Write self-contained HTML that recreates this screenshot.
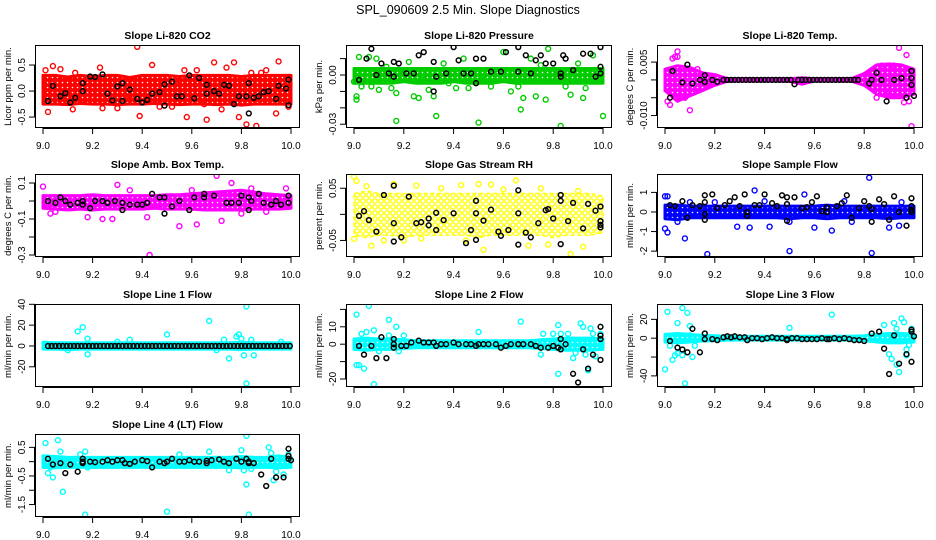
<!DOCTYPE html>
<html><head><meta charset="utf-8">
<style>
html,body{margin:0;padding:0;background:#fff;}
svg{display:block;font-family:"Liberation Sans",Arial,sans-serif;}
</style></head>
<body>
<svg id="chart" width="936" height="540" viewBox="0 0 936 540" xmlns="http://www.w3.org/2000/svg">
<rect width="936" height="540" fill="#fff"/>
<text x="468" y="14" text-anchor="middle" font-size="12.5">SPL_090609  2.5 Min. Slope Diagnostics</text>
</svg>
<script>
// ---------- shared data ----------
const xTicks = [9.0, 9.2, 9.4, 9.6, 9.8, 10.0];
const xTickLabels = ["9.0", "9.2", "9.4", "9.6", "9.8", "10.0"];
const bandX = [9.0,9.05,9.1,9.15,9.2,9.25,9.3,9.35,9.4,9.45,9.5,9.55,9.6,9.65,9.7,9.75,9.8,9.85,9.9,9.95,10.0];
const flowLineBlackX = [9.02,9.035,9.05,9.065,9.08,9.095,9.11,9.125,9.14,9.155,9.17,9.185,9.2,9.215,9.23,9.245,9.26,9.275,9.29,9.305,9.32,9.335,9.35,9.365,9.38,9.395,9.41,9.425,9.44,9.455,9.47,9.485,9.5,9.515,9.53,9.545,9.56,9.575,9.59,9.605,9.62,9.635,9.65,9.665,9.68,9.695,9.71,9.725,9.74,9.755,9.77,9.785,9.8,9.815,9.83,9.845,9.86,9.875,9.89,9.905,9.92,9.935,9.95,9.965,9.98,9.995];

// ---------- P1 CO2 ----------
const co2BandHi = [0.3,0.3,0.27,0.3,0.28,0.3,0.3,0.26,0.3,0.3,0.3,0.28,0.3,0.3,0.3,0.3,0.28,0.3,0.3,0.3,0.3];
const co2BandLo = [-0.25,-0.25,-0.26,-0.24,-0.25,-0.25,-0.26,-0.25,-0.25,-0.24,-0.25,-0.26,-0.25,-0.25,-0.26,-0.25,-0.27,-0.25,-0.25,-0.25,-0.25];
const co2X = [9.01,9.04,9.02,9.07,9.13,9.23,9.24,9.38,9.39,9.44,9.47,9.57,9.58,9.62,9.66,9.69,9.72,9.77,9.79,9.82,9.86,9.84,9.95,9.94,9.99,9.12,9.3,9.52,9.74,9.9,9.06,9.2,9.35,9.55,9.65,9.88];
const co2Y = [0.4,0.48,-0.4,0.42,0.35,0.45,-0.33,0.85,-0.48,0.5,-0.3,0.4,-0.5,0.4,-0.55,0.55,-0.35,0.55,-0.5,-0.64,-0.67,0.35,0.57,-0.43,-0.3,-0.35,-0.33,-0.3,0.45,0.4,-0.2,0.25,-0.15,0.2,-0.25,0.35];
const co2BlkX = [9.02,9.04,9.07,9.09,9.11,9.13,9.16,9.16,9.19,9.21,9.24,9.26,9.28,9.3,9.32,9.32,9.35,9.38,9.4,9.42,9.44,9.47,9.49,9.49,9.52,9.54,9.56,9.59,9.61,9.63,9.66,9.66,9.69,9.71,9.73,9.75,9.77,9.79,9.82,9.83,9.83,9.85,9.87,9.89,9.91,9.94,9.95,9.98,9.99,9.99];
const co2BlkY = [-0.19,0.1,-0.1,-0.04,-0.22,-0.13,0.15,0.0,0.28,0.27,0.32,-0.05,-0.18,0.09,0.15,-0.19,0.03,-0.15,-0.22,-0.17,-0.05,-0.02,0.13,-0.28,0.18,-0.1,-0.1,0.3,-0.14,0.25,-0.05,0.12,0.0,-0.05,0.12,0.1,-0.25,-0.1,-0.1,0.15,-0.43,-0.13,-0.1,-0.02,0.0,-0.15,0.1,0.05,0.22,-0.27];

// ---------- P2 Pressure ----------
const presBandHi = [0.004,0.004,0.004,0.004,0.004,0.004,0.004,0.004,0.004,0.004,0.004,0.004,0.004,0.004,0.004,0.004,0.004,0.004,0.004,0.004,0.004];
const presBandLo = [-0.005,-0.005,-0.005,-0.005,-0.004,-0.005,-0.005,-0.005,-0.004,-0.005,-0.005,-0.005,-0.004,-0.005,-0.005,-0.005,-0.005,-0.005,-0.005,-0.005,-0.005];
const presX = [9.0,9.01,9.01,9.02,9.03,9.06,9.07,9.09,9.1,9.13,9.15,9.17,9.17,9.19,9.22,9.24,9.26,9.28,9.3,9.32,9.33,9.36,9.38,9.41,9.44,9.46,9.5,9.52,9.55,9.6,9.63,9.66,9.67,9.68,9.71,9.73,9.75,9.77,9.78,9.81,9.83,9.85,9.87,9.9,9.92,9.93,9.96,10.0];
const presY = [-0.004,-0.013,-0.015,0.011,-0.007,0.011,-0.007,0.01,-0.009,0.005,-0.008,-0.028,-0.011,0.003,0.008,-0.013,-0.014,-0.003,-0.009,-0.013,-0.025,0.007,-0.005,-0.008,0.01,-0.008,-0.029,-0.003,-0.007,0.014,-0.01,-0.007,-0.021,-0.014,0.01,-0.013,0.006,-0.015,0.016,0.003,-0.031,-0.007,-0.012,0.007,-0.014,-0.008,0.012,-0.025];
const presBlkX = [9.02,9.05,9.07,9.09,9.11,9.14,9.16,9.16,9.18,9.21,9.24,9.26,9.28,9.32,9.32,9.33,9.37,9.4,9.42,9.44,9.47,9.49,9.49,9.52,9.55,9.59,9.61,9.66,9.66,9.69,9.71,9.73,9.75,9.77,9.8,9.83,9.83,9.84,9.85,9.88,9.92,9.95,9.97,9.99,9.99,9.99];
const presBlkY = [-0.003,0.01,0.016,0.0,0.007,0.001,0.008,-0.001,0.007,0.001,0.001,0.012,0.014,0.008,-0.01,-0.001,0.001,0.017,0.009,0.001,0.001,0.01,-0.005,0.01,0.002,0.002,0.014,0.017,0.002,0.012,0.001,0.009,0.012,0.007,0.007,0.001,-0.001,0.012,0.01,0.003,0.013,0.013,-0.001,0.017,0.005,0.001];

// ---------- P3 Temp ----------
const tempBandHi = [0.003,0.004,0.0035,0.002,0.0015,0.0004,0.0003,0.0003,0.0003,0.0003,0.0003,0.0006,0.0003,0.0003,0.0003,0.0004,0.0018,0.0042,0.0045,0.0042,0.003];
const tempBandLo = [-0.003,-0.006,-0.0045,-0.003,-0.0015,-0.0004,-0.0003,-0.0003,-0.0003,-0.0003,-0.0004,-0.0012,-0.0003,-0.0003,-0.0003,-0.0004,-0.0015,-0.004,-0.005,-0.005,-0.004];
const tempX = [9.01,9.02,9.03,9.05,9.05,9.06,9.08,9.1,9.13,9.9,9.94,9.97,9.98,9.99,9.87,9.92,9.85,9.04,9.96];
const tempY = [-0.006,-0.007,0.006,0.008,0.0065,-0.005,-0.005,-0.0085,0.003,-0.004,0.009,0.007,-0.006,-0.013,0.004,0.004,-0.005,0.0065,-0.0063];
const tempBlkX = [9.02,9.03,9.07,9.09,9.11,9.14,9.16,9.16,9.19,9.21,9.235,9.25,9.265,9.28,9.295,9.31,9.325,9.34,9.355,9.37,9.385,9.4,9.415,9.43,9.445,9.46,9.475,9.49,9.505,9.52,9.535,9.55,9.565,9.58,9.595,9.61,9.625,9.64,9.655,9.67,9.685,9.7,9.715,9.73,9.745,9.76,9.775,9.82,9.83,9.85,9.87,9.89,9.92,9.95,9.97,9.99,9.99,9.99,10.0];
const tempBlkY = [-0.005,0.0025,-0.0007,0.0043,-0.001,0.0,0.0013,-0.0006,0.0,-0.0005,0,0,0,0,0,0,0,0,0,0,0,0,0,0,0,0,0,0,0,-0.0012,0,0,0,0,0,0,0,0,0,0,0,0,0,0,0,0,0,-0.001,0.0,0.002,0.0,-0.006,0.0,0.0005,-0.005,0.0025,0.0005,-0.0014,-0.0045];

// ---------- P4 Amb Box Temp ----------
const ambBandHi = [0.03,0.03,0.03,0.03,0.035,0.03,0.03,0.03,0.03,0.03,0.035,0.035,0.04,0.045,0.05,0.055,0.06,0.05,0.04,0.035,0.03];
const ambBandLo = [-0.04,-0.045,-0.05,-0.045,-0.05,-0.045,-0.045,-0.045,-0.045,-0.04,-0.045,-0.045,-0.045,-0.05,-0.05,-0.05,-0.05,-0.045,-0.045,-0.045,-0.04];
const ambX = [9.0,9.03,9.18,9.24,9.28,9.3,9.43,9.42,9.55,9.62,9.7,9.72,9.76,9.84,9.9,9.98,9.05,9.35,9.6,9.8];
const ambY = [0.08,-0.07,-0.09,-0.1,-0.1,0.09,-0.3,-0.09,-0.14,-0.13,0.14,-0.11,0.1,0.07,-0.06,0.07,-0.06,0.06,0.06,-0.07];
const ambBlkX = [9.02,9.05,9.07,9.09,9.11,9.14,9.16,9.16,9.19,9.21,9.24,9.26,9.29,9.32,9.32,9.35,9.38,9.4,9.42,9.44,9.47,9.49,9.49,9.52,9.55,9.59,9.61,9.65,9.65,9.69,9.74,9.76,9.79,9.8,9.83,9.83,9.84,9.87,9.89,9.92,9.94,9.96,9.99,9.99];
const ambBlkY = [0.0,-0.01,0.02,0.0,-0.02,-0.01,0.0,-0.02,-0.04,0.0,0.0,-0.01,0.0,-0.01,-0.05,-0.02,-0.02,-0.02,-0.01,0.04,0.02,0.02,-0.07,-0.03,0.0,-0.05,0.02,0.04,0.02,0.03,-0.01,-0.01,-0.01,0.03,0.02,-0.05,0.0,0.04,-0.01,-0.02,0.0,-0.02,0.03,-0.01];

// ---------- P5 RH ----------
const rhBandHi = [0.04,0.045,0.04,0.04,0.04,0.04,0.04,0.04,0.04,0.04,0.04,0.04,0.04,0.04,0.04,0.04,0.04,0.04,0.04,0.04,0.035];
const rhBandLo = [-0.04,-0.045,-0.04,-0.04,-0.045,-0.04,-0.04,-0.04,-0.04,-0.04,-0.045,-0.04,-0.04,-0.04,-0.04,-0.04,-0.045,-0.04,-0.04,-0.04,-0.035];
const rhX = [9.0,9.01,9.0,9.05,9.07,9.16,9.25,9.27,9.43,9.5,9.52,9.55,9.65,9.7,9.78,9.87,9.92,9.12,9.35,9.6,9.9,9.2,9.45,9.75];
const rhY = [0.072,0.064,-0.047,0.054,-0.06,0.058,0.055,-0.046,0.056,0.058,-0.068,0.057,0.065,-0.06,-0.058,-0.076,-0.062,-0.05,0.05,0.048,0.045,-0.05,-0.05,0.05];
const rhBlkX = [9.02,9.04,9.06,9.09,9.12,9.16,9.16,9.16,9.19,9.22,9.25,9.27,9.3,9.3,9.33,9.33,9.36,9.4,9.45,9.47,9.49,9.49,9.49,9.52,9.55,9.58,9.59,9.62,9.66,9.66,9.66,9.69,9.71,9.74,9.77,9.78,9.8,9.83,9.83,9.83,9.86,9.88,9.92,9.94,9.97,9.99,9.99,9.99,9.99];
const rhBlkY = [-0.003,0.006,-0.011,-0.033,0.037,0.055,-0.017,-0.052,-0.044,0.034,-0.017,-0.015,-0.021,-0.008,-0.03,0.003,-0.011,0.002,-0.055,-0.03,0.026,0.002,-0.049,-0.012,0.009,-0.033,-0.041,-0.03,0.046,0.002,-0.058,-0.035,-0.044,-0.017,0.008,0.01,-0.008,0.037,0.026,-0.057,-0.013,0.022,-0.027,0.02,0.007,0.015,-0.013,-0.02,-0.025];

// ---------- P6 Sample Flow ----------
const sfBandHi = [0.35,0.35,0.3,0.3,0.3,0.3,0.3,0.3,0.3,0.3,0.3,0.3,0.3,0.35,0.3,0.3,0.3,0.3,0.3,0.3,0.3];
const sfBandLo = [-0.35,-0.4,-0.3,-0.3,-0.3,-0.3,-0.3,-0.3,-0.3,-0.3,-0.35,-0.3,-0.3,-0.35,-0.3,-0.3,-0.3,-0.3,-0.35,-0.3,-0.3];
const sfX = [9.0,9.0,9.01,9.08,9.17,9.36,9.34,9.5,9.56,9.6,9.67,9.82,9.83,9.9,9.94,9.42,9.29,9.1,9.4,9.72,9.01,9.05,9.2,9.5,9.75,9.95];
const sfY = [0.8,-0.85,-1.05,-1.35,-2.15,1.1,-0.8,-2.0,0.9,-0.8,-0.95,1.75,-2.1,-0.8,-0.7,-0.75,-0.75,0.5,0.55,0.55,0.8,-0.5,0.5,-0.5,-0.5,0.5];
const sfBlkX = [9.02,9.04,9.07,9.09,9.11,9.14,9.16,9.16,9.16,9.16,9.19,9.21,9.24,9.26,9.28,9.3,9.32,9.33,9.33,9.36,9.38,9.4,9.43,9.45,9.47,9.49,9.49,9.49,9.52,9.55,9.57,9.59,9.61,9.63,9.65,9.65,9.69,9.71,9.73,9.75,9.78,9.8,9.82,9.83,9.83,9.86,9.88,9.9,9.92,9.94,9.97,9.99,9.99,9.99,9.99];
const sfBlkY = [0.35,0.3,0.55,-0.3,0.35,0.3,0.85,0.5,-0.1,-0.4,0.9,0.2,0.35,0.55,0.75,0.3,0.9,0.0,-0.2,0.35,0.35,0.9,0.45,0.3,0.85,0.75,0.4,-0.45,0.75,0.2,0.25,0.5,0.8,0.05,0.0,0.25,0.3,0.45,0.85,-0.3,0.2,0.55,0.3,0.15,-0.5,0.65,0.4,-0.4,0.8,0.0,-0.7,0.7,0.3,0.1,0.0];

// ---------- P7 Line 1 ----------
const l1BandHi = [3.5,3,3,3,3,3,3,3,3,3,3,3,3,3,3,3,3.5,3,3,3,3];
const l1BandLo = [-3,-3,-3.5,-3,-3,-3,-3,-3,-3,-3,-3,-3,-3,-3,-3,-3,-3.5,-3,-3,-3,-3];
const l1X = [9.14,9.16,9.18,9.18,9.5,9.67,9.73,9.75,9.78,9.79,9.8,9.81,9.82,9.82,9.84,9.85,9.1,9.7,9.3,9.35,9.96];
const l1Y = [14,18,-8,7,11,24,6,-12,9,11,7,-9,38,-36,6,-9,-4,-4,4,6,4];
const l1BlkY = [0,0,0,0,0,0,0,0,0,0,0,0,0,0,0,0,0,0,0,0,0,0,0,0,0,0,0,0,0,0,0,0,0,0,0,0,0,0,0,0,0,0,0,0,0,0,0,0,0,0,0,0,0,0,0,0,0,0,0,0,0,0,0,0,0,0];

// ---------- P8 Line 2 ----------
const l2BandHi = [3,3.5,3,3,2.5,2,2,2,2,2,2,2,2,2,2,2.5,3,3.5,3.5,3.5,3];
const l2BandLo = [-3,-3.5,-3,-3,-2.5,-2,-2,-2,-2,-2,-2,-2,-2,-2,-2,-2.5,-3,-3.5,-3.5,-3.5,-3];
const l2X = [9.01,9.01,9.02,9.03,9.04,9.05,9.06,9.08,9.08,9.1,9.14,9.14,9.17,9.18,9.2,9.5,9.67,9.75,9.76,9.8,9.82,9.82,9.83,9.86,9.89,9.91,9.92,9.93,9.95,9.96,9.97,9.99,9.94,9.88];
const l2Y = [17,-12,-12,6,-14,7,22,8,-23,-4,14,5,10,-4,5,7,13,-6,6,6,11,-17,6,6,-5,12,10,-6,9,6,-7,6,-15,-8];
const l2BlkX = [9.02,9.04,9.07,9.09,9.11,9.13,9.16,9.16,9.16,9.19,9.21,9.23,9.26,9.28,9.3,9.32,9.33,9.35,9.37,9.4,9.42,9.45,9.47,9.49,9.5,9.52,9.54,9.57,9.59,9.61,9.63,9.66,9.66,9.68,9.71,9.73,9.75,9.78,9.8,9.82,9.83,9.83,9.85,9.88,9.9,9.92,9.94,9.96,9.99,9.99,9.99,9.99];
const l2BlkY = [-1,-6,-1,-8,4,-8,3,0,-2,-1,-1,1,2,1,1,1,-1,0,0,1,0,0,0,-1,0,0,0,0,-2,-1,0,0,0,0,0,-1,-2,-2,-1,-2,3,-3,0,-17,-22,-3,-14,-6,3,10,5,-9];

// ---------- P9 Line 3 ----------
const l3BandHi = [4,5,4,3,2.5,2,2,2,2,2,2,2,2,2,2,2,2.5,4,5,5,4];
const l3BandLo = [-4,-5,-4,-3,-2.5,-2,-2,-2,-2,-2,-2,-2,-2,-2,-2,-2,-2.5,-4,-5,-5,-4];
const l3X = [9.01,9.0,9.02,9.03,9.04,9.05,9.05,9.07,9.07,9.08,9.09,9.1,9.11,9.5,9.67,9.88,9.9,9.91,9.92,9.93,9.94,9.95,9.96,9.97,9.98,9.93,9.97,9.99,9.1,9.12];
const l3Y = [28,-33,-8,-23,-18,16,-16,32,-18,-48,27,13,-20,11,25,14,-17,-22,16,-28,-36,21,17,-12,-7,10,-18,10,3,-8];
const l3BlkX = [9.02,9.05,9.07,9.09,9.11,9.14,9.16,9.16,9.19,9.21,9.235,9.25,9.265,9.28,9.3,9.32,9.33,9.35,9.37,9.39,9.41,9.43,9.45,9.47,9.49,9.49,9.51,9.53,9.55,9.57,9.59,9.61,9.63,9.65,9.66,9.68,9.7,9.72,9.74,9.76,9.78,9.8,9.83,9.86,9.88,9.9,9.92,9.94,9.97,9.99,9.99,10.0,9.99];
const l3BlkY = [-3,-10,-12,-15,10,-15,5,-1,-1,-2,1,2,1,2,1,1,-2,0,0,-1,0,1,0,0,-1,-2,0,0,-1,-1,-1,-1,0,-1,-1,0,-1,0,-1,-2,-2,-3,5,7,-11,-38,3,-27,-17,7,9,2,-25];

// ---------- P10 Line 4 ----------
const l4BandHi = [0.2,0.18,0.15,0.15,0.15,0.15,0.15,0.15,0.15,0.15,0.15,0.15,0.15,0.15,0.15,0.15,0.18,0.15,0.15,0.2,0.15];
const l4BandLo = [-0.2,-0.22,-0.2,-0.2,-0.2,-0.2,-0.2,-0.2,-0.2,-0.2,-0.2,-0.2,-0.2,-0.2,-0.2,-0.2,-0.22,-0.2,-0.2,-0.22,-0.2];
const l4X = [9.01,9.02,9.03,9.04,9.06,9.07,9.08,9.17,9.17,9.18,9.5,9.67,9.75,9.8,9.81,9.82,9.82,9.83,9.84,9.91,9.92,9.93,9.94,9.97,9.99,9.15,9.55];
const l4Y = [0.65,-0.4,-0.2,-0.55,0.75,0.35,-1.05,0.35,-1.85,-0.2,-1.75,0.35,-0.3,0.4,-0.3,0.9,-0.8,-1.85,-0.25,0.5,0.3,-0.65,-0.35,-0.45,0.25,0.25,0.25];
const l4BlkX = [9.02,9.04,9.07,9.09,9.11,9.14,9.16,9.16,9.16,9.19,9.21,9.24,9.26,9.28,9.3,9.32,9.33,9.35,9.37,9.4,9.42,9.44,9.47,9.49,9.5,9.52,9.55,9.57,9.59,9.61,9.63,9.66,9.66,9.68,9.71,9.73,9.75,9.78,9.8,9.82,9.83,9.83,9.85,9.88,9.9,9.92,9.94,9.97,9.99,9.99,9.99,10.0];
const l4BlkY = [0.1,-0.1,-0.05,-0.4,-0.1,-0.35,0.1,0.0,-0.05,0.0,-0.02,0.0,0.05,0.0,0.05,0.05,-0.05,-0.08,0.0,0.05,0.02,-0.2,0.0,-0.05,0.0,0.1,0.0,0.0,0.05,0.0,0.0,-0.05,0.03,0.05,0.08,0.0,-0.05,0.1,0.0,0.1,0.0,-0.05,-0.05,-0.45,-0.85,0.1,-0.55,-0.55,0.45,0.2,0.1,0.05];

// ---------- rendering ----------
const NS = "http://www.w3.org/2000/svg";
const svg = document.getElementById("chart");
const colL = [35, 346, 657], colR = [300, 612, 923];
const rowT = [45, 174, 304, 434], rowB = [128, 257, 387, 517];

const panels = [
 {name:"co2", title:"Slope Li-820 CO2", ylab:"Licor ppm per min.", col:0,row:0, ymin:-0.71,ymax:0.885, color:"#ff0000", sparse:false,
  ticks:[0.5,0,-0.5], tickLabels:["0.5","0.0","-0.5"], hi:co2BandHi, lo:co2BandLo, cx:co2X, cy:co2Y, bx:co2BlkX, by:co2BlkY},
 {name:"pressure", title:"Slope Li-820 Pressure", ylab:"kPa per min.", col:1,row:0, ymin:-0.0323,ymax:0.0183, color:"#00cc00", sparse:false,
  ticks:[0.01,0,-0.01,-0.02,-0.03], tickLabels:["","0.00","","","-0.03"], hi:presBandHi, lo:presBandLo, cx:presX, cy:presY, bx:presBlkX, by:presBlkY},
 {name:"temp", title:"Slope Li-820 Temp.", ylab:"degees C per min.", col:2,row:0, ymin:-0.0135,ymax:0.0098, color:"#ff00ff", sparse:false,
  ticks:[0.005,0,-0.005,-0.01], tickLabels:["0.005","","","-0.010"], hi:tempBandHi, lo:tempBandLo, cx:tempX, cy:tempY, bx:tempBlkX, by:tempBlkY},
 {name:"amb-box-temp", title:"Slope Amb. Box Temp.", ylab:"degrees C per min.", col:0,row:1, ymin:-0.311,ymax:0.15, color:"#ff00ff", sparse:false,
  ticks:[0.1,0,-0.1,-0.2,-0.3], tickLabels:["0.1","","-0.1","","-0.3"], hi:ambBandHi, lo:ambBandLo, cx:ambX, cy:ambY, bx:ambBlkX, by:ambBlkY},
 {name:"gas-stream-rh", title:"Slope Gas Stream RH", ylab:"percent per min.", col:1,row:1, ymin:-0.0817,ymax:0.0773, color:"#ffff00", sparse:true,
  ticks:[0.05,0,-0.05], tickLabels:["0.05","","-0.05"], hi:rhBandHi, lo:rhBandLo, cx:rhX, cy:rhY, bx:rhBlkX, by:rhBlkY},
 {name:"sample-flow", title:"Slope Sample Flow", ylab:"ml/min per min.", col:2,row:1, ymin:-2.3,ymax:1.94, color:"#0000ff", sparse:false,
  ticks:[1,0,-1,-2], tickLabels:["1","0","-1","-2"], hi:sfBandHi, lo:sfBandLo, cx:sfX, cy:sfY, bx:sfBlkX, by:sfBlkY},
 {name:"line1-flow", title:"Slope Line 1 Flow", ylab:"ml/min per min.", col:0,row:2, ymin:-39.4,ymax:40.3, color:"#00ffff", sparse:false,
  ticks:[40,20,0,-20], tickLabels:["40","20","0","-20"], hi:l1BandHi, lo:l1BandLo, cx:l1X, cy:l1Y, bx:flowLineBlackX, by:l1BlkY},
 {name:"line2-flow", title:"Slope Line 2 Flow", ylab:"ml/min per min.", col:1,row:2, ymin:-24.6,ymax:23.1, color:"#00ffff", sparse:false,
  ticks:[20,10,0,-10,-20], tickLabels:["","10","0","","-20"], hi:l2BandHi, lo:l2BandLo, cx:l2X, cy:l2Y, bx:l2BlkX, by:l2BlkY},
 {name:"line3-flow", title:"Slope Line 3 Flow", ylab:"ml/min per min.", col:2,row:2, ymin:-51.8,ymax:36.3, color:"#00ffff", sparse:false,
  ticks:[20,0,-20,-40], tickLabels:["20","0","","-40"], hi:l3BandHi, lo:l3BandLo, cx:l3X, cy:l3Y, bx:l3BlkX, by:l3BlkY},
 {name:"line4-flow", title:"Slope Line 4 (LT) Flow", ylab:"ml/min per min.", col:0,row:3, ymin:-1.935,ymax:0.967, color:"#00ffff", sparse:false,
  ticks:[0.5,0,-0.5,-1,-1.5], tickLabels:["0.5","","-0.5","","-1.5"], hi:l4BandHi, lo:l4BandLo, cx:l4X, cy:l4Y, bx:l4BlkX, by:l4BlkY}
];

function mk(tag, attrs, parent){
  const e = document.createElementNS(NS, tag);
  for (const k in attrs) e.setAttribute(k, attrs[k]);
  (parent||svg).appendChild(e);
  return e;
}

const defs = mk("defs", {});

panels.forEach(p => {
  const L = colL[p.col], R = colR[p.col], T = rowT[p.row], B = rowB[p.row];
  const xs = v => (L + 8) + (v - 9.0) / 1.0 * ((R - 9) - (L + 8));
  const ys = v => B - (v - p.ymin) / (p.ymax - p.ymin) * (B - T);
  const g = mk("g", {});
  
  

  // texture pattern for dense point cloud
  const pat = mk("pattern", {id:"pat-"+p.name, width:p.sparse?6:5, height:p.sparse?6:5, patternUnits:"userSpaceOnUse"}, defs);
  if (p.sparse) {
    mk("rect", {width:6, height:6, fill:"#fff"}, pat);
    mk("circle", {cx:3, cy:3, r:2.2, fill:"none", stroke:p.color, "stroke-width":1.4}, pat);
  } else {
    mk("rect", {width:5, height:5, fill:p.color}, pat);
    mk("circle", {cx:2.5, cy:2.5, r:0.8, fill:"#fff"}, pat);
  }

  const clip = mk("clipPath", {id:"clip-"+p.name}, g);
  mk("rect", {x:L, y:T, width:R-L, height:B-T}, clip);
  const plot = mk("g", {"clip-path":"url(#clip-"+p.name+")"}, g);
  
  

  // dense band
  let pts = [];
  bandX.forEach((x,i)=>pts.push(xs(x).toFixed(1)+","+ys(p.hi[i]).toFixed(1)));
  for (let i=bandX.length-1;i>=0;i--) pts.push(xs(bandX[i]).toFixed(1)+","+ys(p.lo[i]).toFixed(1));
  const band = mk("polygon", {points:pts.join(" "), fill:"url(#pat-"+p.name+")", stroke:p.color, "stroke-width":p.sparse?1.4:3, "stroke-dasharray":p.sparse?"4 3":"none", "stroke-linejoin":"round"}, plot);
  
  

  // colored points
  p.cx.forEach((x,i)=>{
    const c = mk("circle", {cx:xs(x).toFixed(1), cy:ys(p.cy[i]).toFixed(1), r:2.5, fill:"none", stroke:p.color, "stroke-width":1.4}, plot);
    
    
  });
  // black points
  p.bx.forEach((x,i)=>{
    const c = mk("circle", {cx:xs(x).toFixed(1), cy:ys(p.by[i]).toFixed(1), r:2.4, fill:"none", stroke:"#000", "stroke-width":1.5}, plot);
    
    
  });

  // frame
  const fr = mk("rect", {x:L+0.5, y:T+0.5, width:R-L-1, height:B-T-1, fill:"none", stroke:"#000", "stroke-width":1}, g);
  
  

  // title
  const t = mk("text", {x:(L+R)/2, y:T-6, "text-anchor":"middle", "font-size":"10.5", "font-weight":"bold"}, g);
  t.textContent = p.title;
  
  

  // x axis
  mk("line", {x1:xs(9.0), x2:xs(10.0), y1:B+0.5, y2:B+0.5, stroke:"#000"}, g);
  xTicks.forEach((v,i)=>{
    mk("line", {x1:xs(v), x2:xs(v), y1:B, y2:B+6, stroke:"#000"}, g);
    const lt = mk("text", {x:xs(v), y:B+21, "text-anchor":"middle", "font-size":"10"}, g);
    lt.textContent = xTickLabels[i];
    
    
  });

  // y axis
  mk("line", {x1:L-0.5, x2:L-0.5, y1:ys(p.ticks[0]), y2:ys(p.ticks[p.ticks.length-1]), stroke:"#000"}, g);
  p.ticks.forEach((v,i)=>{
    const y = ys(v);
    mk("line", {x1:L-6, x2:L, y1:y, y2:y, stroke:"#000"}, g);
    if (p.tickLabels[i]) {
      const lt = mk("text", {x:L-10, y:y, "text-anchor":"middle", "font-size":"10", transform:"rotate(-90 "+(L-10)+" "+y+")"}, g);
      lt.textContent = p.tickLabels[i];
      
      
    }
  });
  const yt = mk("text", {x:L-24, y:(T+B)/2, "text-anchor":"middle", "font-size":"9.5", transform:"rotate(-90 "+(L-24)+" "+((T+B)/2)+")"}, g);
  yt.textContent = p.ylab;
  
  
});
</script>
</body></html>
